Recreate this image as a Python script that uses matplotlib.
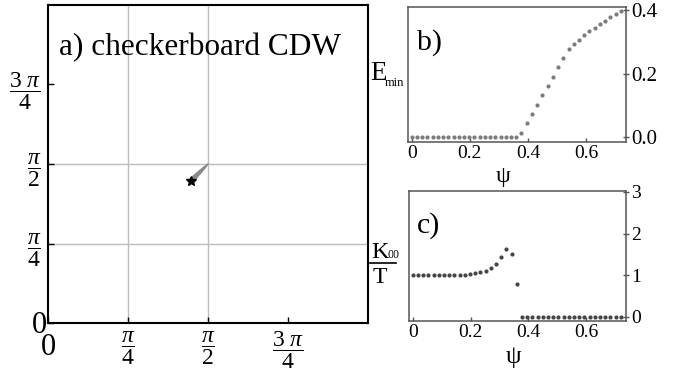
import numpy as np
import matplotlib.pyplot as plt
from matplotlib.lines import Line2D

plt.rcParams['font.family'] = 'Liberation Serif'
plt.rcParams['mathtext.fontset'] = 'custom'
plt.rcParams['mathtext.rm'] = 'Liberation Serif'
plt.rcParams['mathtext.it'] = 'Liberation Serif:italic'

# Ordering wavevector (q_x, q_y) flowing from (pi/2, pi/2) to the final point
traj_qx = [1.571, 1.560, 1.549, 1.538, 1.527, 1.516, 1.505, 1.494,
           1.483, 1.472, 1.461, 1.450, 1.439, 1.428, 1.417, 1.408]
traj_qy = [1.571, 1.560, 1.549, 1.538, 1.527, 1.516, 1.505, 1.494,
           1.483, 1.472, 1.461, 1.450, 1.439, 1.428, 1.417, 1.409]
star_qx, star_qy = 1.401, 1.403

# Sweep over psi
psi = [0.000, 0.018, 0.036, 0.054, 0.072, 0.090, 0.108, 0.126, 0.144, 0.162,
       0.180, 0.198, 0.216, 0.234, 0.252, 0.270, 0.288, 0.306, 0.324, 0.342,
       0.360, 0.378, 0.396, 0.414, 0.432, 0.450, 0.468, 0.486, 0.504, 0.522,
       0.540, 0.558, 0.576, 0.594, 0.612, 0.630, 0.648, 0.666, 0.684, 0.702,
       0.720]
e_min = [0.0] * 21 + [0.013, 0.043, 0.072, 0.102, 0.131, 0.161, 0.190, 0.220,
                      0.250, 0.277, 0.292, 0.306, 0.321, 0.334, 0.345, 0.356,
                      0.366, 0.377, 0.387, 0.398]
kappa = [1.00, 1.00, 1.00, 1.00, 1.00, 1.00, 1.00, 1.00, 1.00, 1.01, 1.01,
         1.02, 1.05, 1.07, 1.11, 1.18, 1.27, 1.44, 1.64, 1.50, 0.79] + [0.0] * 20

W, H = 679, 375


def px_box(x0, y0, x1, y1):
    return [x0 / W, 1 - y1 / H, (x1 - x0) / W, (y1 - y0) / H]


fig = plt.figure(figsize=(W / 100, H / 100), dpi=100)

# ---- a) wavevector plane
ax_a = fig.add_axes(px_box(48, 5, 368, 323))
ax_a.set_xlim(0, np.pi)
ax_a.set_ylim(0, np.pi)
for v in (np.pi / 4, np.pi / 2):
    ax_a.axhline(v, color='#bdbdbd', lw=1, zorder=0)
    ax_a.axvline(v, color='#bdbdbd', lw=1, zorder=0)
ticks = [0, np.pi / 4, np.pi / 2, 3 * np.pi / 4]
frac_labels = ['', r'$\dfrac{\pi}{4}$', r'$\dfrac{\pi}{2}$', r'$\dfrac{3\ \pi}{4}$']
ax_a.set_xticks(ticks)
ax_a.set_xticklabels(frac_labels)
ax_a.set_yticks(ticks)
ax_a.set_yticklabels(frac_labels)
ax_a.tick_params(direction='in', length=4, width=1, labelsize=17, pad=5)
for s in ax_a.spines.values():
    s.set_linewidth(1.5)
ax_a.text(-0.003, -0.031, '0', transform=ax_a.transAxes, ha='right',
          va='baseline', fontsize=22)
ax_a.text(0.002, -0.101, '0', transform=ax_a.transAxes, ha='center',
          va='baseline', fontsize=22)

sizes = np.linspace(1.5, 16, len(traj_qx))
ax_a.scatter(traj_qx, traj_qy, s=sizes, color='#8a8a8a', linewidths=0, zorder=3)
ax_a.plot(star_qx, star_qy, marker='*', color='black', ms=7, zorder=4)
ax_a.text(0.034, 0.843, 'a) checkerboard CDW', transform=ax_a.transAxes,
          ha='left', va='baseline', fontsize=22.5)


def style_side(ax, color):
    for s in ax.spines.values():
        s.set_color(color)
        s.set_linewidth(1.1)
    ax.yaxis.tick_right()
    ax.tick_params(axis='x', direction='in', length=3, width=1, colors=color,
                   labelcolor='black', labelsize=14, pad=2)
    ax.tick_params(axis='y', direction='inout', length=4, width=1, colors=color,
                   labelcolor='black', labelsize=14, pad=1.5)
    ax.set_xlim(-0.013, 0.738)
    ax.set_xticks([0, 0.2, 0.4, 0.6])
    ax.set_xticklabels(['0', '0.2', '0.4', '0.6'])


# ---- b) minimum energy
ax_b = fig.add_axes(px_box(408, 7, 626, 142))
ax_b.plot(psi, e_min, 'o', ms=3, color='#7c7c7c', mec='none')
style_side(ax_b, '#555555')
ax_b.set_ylim(-0.016, 0.41)
ax_b.set_yticks([0, 0.2, 0.4])
ax_b.set_yticklabels(['0.0', '0.2', '0.4'])
ax_b.tick_params(axis='y', labelsize=15)
ax_b.text(0.041, 0.681, 'b)', transform=ax_b.transAxes, ha='left',
          va='baseline', fontsize=21.5)

# ---- c) thermal conductivity
ax_c = fig.add_axes(px_box(409, 191, 626, 321))
ax_c.plot(psi, kappa, 'o', ms=3, color='#454545', mec='none')
style_side(ax_c, '#555555')
ax_c.set_ylim(-0.1, 3.02)
ax_c.set_yticks([0, 1, 2, 3])
ax_c.set_yticklabels(['0', '1', '2', '3'])
ax_c.text(0.037, 0.677, 'c)', transform=ax_c.transAxes, ha='left',
          va='baseline', fontsize=21.5)

# axis labels
fig.text(370 / W, 1 - 80 / H, 'E', ha='left', va='baseline', fontsize=19.5)
fig.text(385 / W, 1 - 86 / H, 'min', ha='left', va='baseline', fontsize=9)

fig.text(371 / W, 1 - 258 / H, 'Κ', ha='left', va='baseline', fontsize=17.5)
fig.text(387 / W, 1 - 258 / H, '00', ha='left', va='baseline', fontsize=8.5)
fig.add_artist(Line2D([370 / W, 396 / W], [1 - 263 / H, 1 - 263 / H],
                      color='black', lw=1.2, transform=fig.transFigure))
fig.text(380 / W, 1 - 283 / H, 'T', ha='center', va='baseline', fontsize=17)

fig.text(503 / W, 1 - 182 / H, 'ψ', ha='center', va='baseline', fontsize=17)
fig.text(513 / W, 1 - 363 / H, 'ψ', ha='center', va='baseline', fontsize=18)

fig.savefig('out.png', dpi=100)
